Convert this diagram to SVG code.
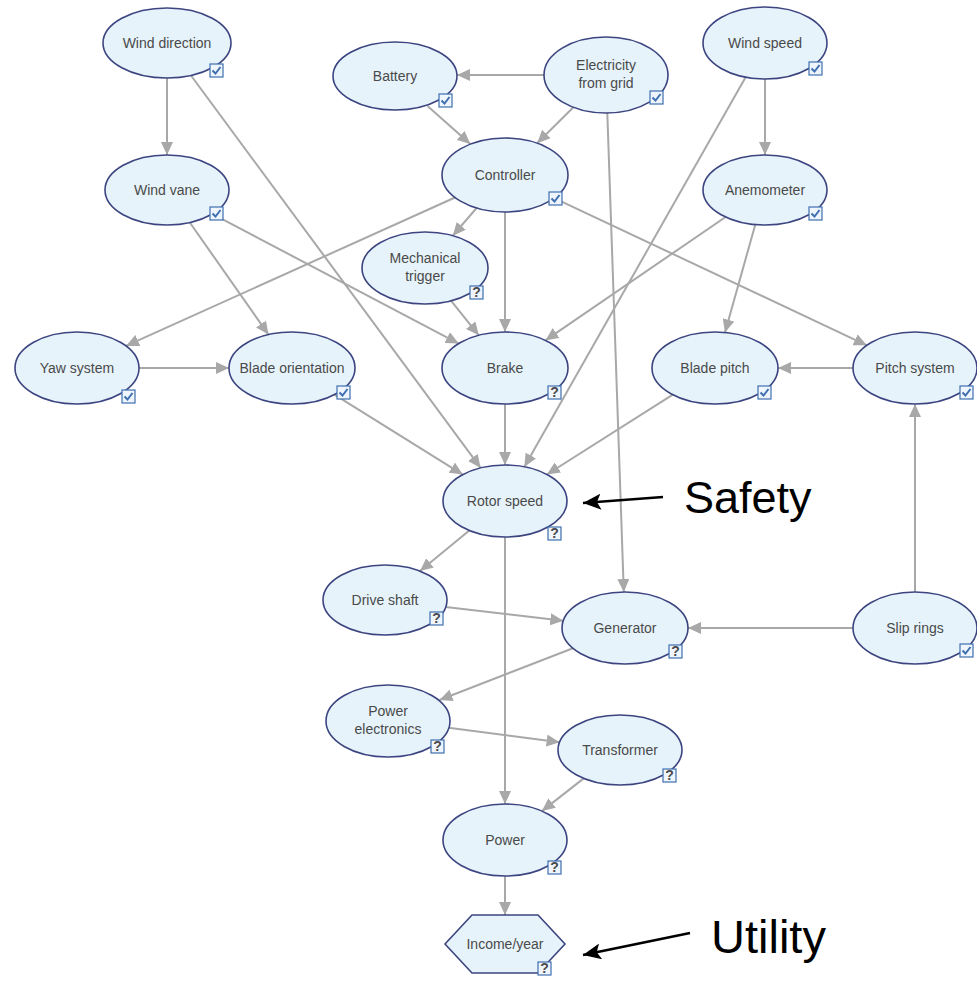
<svg xmlns="http://www.w3.org/2000/svg" width="977" height="988" viewBox="0 0 977 988">
<defs>
<style>
.n ellipse,.n polygon{fill:#e6f3fb;stroke:#3c4580;stroke-width:1.6}
.n text{font-family:"Liberation Sans",Arial,sans-serif;font-size:14px;fill:#4a4a4a;text-anchor:middle}
.e line{stroke:#a8a8a8;stroke-width:2;fill:none;marker-end:url(#ag)}
.ic{fill:#eef5fc;stroke:#3f6fb0;stroke-width:1.2}
.ck{fill:none;stroke:#3f6fb0;stroke-width:2}
.qm{font-family:"Liberation Sans",Arial,sans-serif;font-size:11px;font-weight:bold;fill:#3f6fb0;text-anchor:middle}
.ann{font-family:"Liberation Sans",Arial,sans-serif;fill:#000}
.al{stroke:#000;stroke-width:2.5;marker-end:url(#ab)}
</style>
<marker id="ag" markerUnits="userSpaceOnUse" markerWidth="14" markerHeight="12" refX="13" refY="6" orient="auto"><path d="M0,0 L13,6 L0,12 z" fill="#a8a8a8"/></marker>
<marker id="ab" markerUnits="userSpaceOnUse" markerWidth="20" markerHeight="16" refX="18" refY="8" orient="auto"><path d="M0,0 L18,8 L0,16 L4,8 z" fill="#000"/></marker>
<symbol id="chk" viewBox="0 0 13 13" overflow="visible"><rect class="ic" x="0" y="0" width="13" height="13"/><path class="ck" d="M2.5,6.5 L5.5,9.5 L10.5,3"/></symbol>
<symbol id="qb" viewBox="0 0 13 13" overflow="visible"><rect class="ic" x="0" y="0" width="13" height="13"/></symbol>
</defs>
<rect width="977" height="988" fill="#fff"/>

<g id="edges" class="e">
<line x1="167" y1="78" x2="167" y2="155"/>
<line x1="191" y1="75.5" x2="480.6" y2="467.9"/>
<line x1="544" y1="75" x2="457" y2="75"/>
<line x1="427.5" y1="106" x2="470.3" y2="144.1"/>
<line x1="573.4" y1="107.3" x2="537.1" y2="143.2"/>
<line x1="607.3" y1="113" x2="623.8" y2="592"/>
<line x1="765" y1="79" x2="765" y2="155"/>
<line x1="745.6" y1="77.2" x2="524.4" y2="466.8"/>
<line x1="476.6" y1="208" x2="452.8" y2="235.7"/>
<line x1="505" y1="212" x2="505" y2="332"/>
<line x1="455" y1="197.5" x2="126" y2="345.9"/>
<line x1="554.2" y1="198.1" x2="866.8" y2="345.3"/>
<line x1="212.3" y1="213.9" x2="458.7" y2="343.6"/>
<line x1="189.8" y1="222.5" x2="268.5" y2="334.6"/>
<line x1="725.6" y1="217" x2="545.4" y2="340.4"/>
<line x1="755.3" y1="224.5" x2="725" y2="332.4"/>
<line x1="451.2" y1="300.8" x2="478.8" y2="335.3"/>
<line x1="139" y1="368" x2="229" y2="368"/>
<line x1="853" y1="368" x2="778" y2="368"/>
<line x1="334.5" y1="394.6" x2="462.8" y2="474.6"/>
<line x1="505" y1="404" x2="505" y2="465"/>
<line x1="672.8" y1="394.7" x2="546.9" y2="474.5"/>
<line x1="469.3" y1="530.4" x2="420" y2="571.1"/>
<line x1="505" y1="537" x2="505" y2="804"/>
<line x1="445.7" y1="607.1" x2="563.3" y2="620.8"/>
<line x1="853" y1="628" x2="688" y2="628"/>
<line x1="915" y1="592" x2="915" y2="404"/>
<line x1="572.9" y1="648.2" x2="439.5" y2="700"/>
<line x1="448.6" y1="727.8" x2="559.6" y2="742.2"/>
<line x1="583.7" y1="778.4" x2="541.9" y2="811.1"/>
<line x1="505" y1="876" x2="505" y2="915"/>
</g>

<g id="n-wind-direction" class="n"><ellipse cx="167" cy="43" rx="64" ry="35"/><text x="167" y="48">Wind direction</text><use href="#chk" x="210" y="64" width="13" height="13"/></g>
<g id="n-battery" class="n"><ellipse cx="395" cy="76" rx="62" ry="34"/><text x="395" y="81">Battery</text><use href="#chk" x="439" y="94" width="13" height="13"/></g>
<g id="n-electricity" class="n"><ellipse cx="606" cy="75" rx="62" ry="38"/><text x="606" y="70">Electricity</text><text x="606" y="88">from grid</text><use href="#chk" x="650" y="91" width="13" height="13"/></g>
<g id="n-wind-speed" class="n"><ellipse cx="765" cy="43" rx="62" ry="36"/><text x="765" y="48">Wind speed</text><use href="#chk" x="809" y="62" width="13" height="13"/></g>
<g id="n-controller" class="n"><ellipse cx="505" cy="175" rx="63" ry="37"/><text x="505" y="180">Controller</text><use href="#chk" x="549" y="192" width="13" height="13"/></g>
<g id="n-wind-vane" class="n"><ellipse cx="167" cy="190" rx="62" ry="35"/><text x="167" y="195">Wind vane</text><use href="#chk" x="210" y="207" width="13" height="13"/></g>
<g id="n-anemometer" class="n"><ellipse cx="765" cy="190" rx="62" ry="35"/><text x="765" y="195">Anemometer</text><use href="#chk" x="809" y="207" width="13" height="13"/></g>
<g id="n-mech-trigger" class="n"><ellipse cx="425" cy="268" rx="63" ry="36"/><text x="425" y="263">Mechanical</text><text x="425" y="281">trigger</text><use href="#qb" x="470" y="286" width="13" height="13"/><text class="qm" x="476.5" y="297">?</text></g>
<g id="n-yaw" class="n"><ellipse cx="77" cy="368" rx="62" ry="36"/><text x="77" y="373">Yaw system</text><use href="#chk" x="122" y="390" width="13" height="13"/></g>
<g id="n-blade-orientation" class="n"><ellipse cx="292" cy="368" rx="63" ry="36"/><text x="292" y="373">Blade orientation</text><use href="#chk" x="337" y="386" width="13" height="13"/></g>
<g id="n-brake" class="n"><ellipse cx="505" cy="368" rx="63" ry="36"/><text x="505" y="373">Brake</text><use href="#qb" x="548" y="386" width="13" height="13"/><text class="qm" x="554.5" y="397">?</text></g>
<g id="n-blade-pitch" class="n"><ellipse cx="715" cy="368" rx="63" ry="36"/><text x="715" y="373">Blade pitch</text><use href="#chk" x="758" y="386" width="13" height="13"/></g>
<g id="n-pitch-system" class="n"><ellipse cx="915" cy="368" rx="62" ry="36"/><text x="915" y="373">Pitch system</text><use href="#chk" x="960" y="386" width="13" height="13"/></g>
<g id="n-rotor-speed" class="n"><ellipse cx="505" cy="501" rx="62" ry="36"/><text x="505" y="506">Rotor speed</text><use href="#qb" x="548" y="527" width="13" height="13"/><text class="qm" x="554.5" y="538">?</text></g>
<g id="n-drive-shaft" class="n"><ellipse cx="385" cy="600" rx="62" ry="35"/><text x="385" y="605">Drive shaft</text><use href="#qb" x="430" y="612" width="13" height="13"/><text class="qm" x="436.5" y="623">?</text></g>
<g id="n-generator" class="n"><ellipse cx="625" cy="628" rx="63" ry="36"/><text x="625" y="633">Generator</text><use href="#qb" x="669" y="645" width="13" height="13"/><text class="qm" x="675.5" y="656">?</text></g>
<g id="n-slip-rings" class="n"><ellipse cx="915" cy="628" rx="62" ry="36"/><text x="915" y="633">Slip rings</text><use href="#chk" x="960" y="644" width="13" height="13"/></g>
<g id="n-power-electronics" class="n"><ellipse cx="388" cy="721" rx="62" ry="36"/><text x="388" y="716">Power</text><text x="388" y="734">electronics</text><use href="#qb" x="431" y="740" width="13" height="13"/><text class="qm" x="437.5" y="751">?</text></g>
<g id="n-transformer" class="n"><ellipse cx="620" cy="750" rx="62" ry="35"/><text x="620" y="755">Transformer</text><use href="#qb" x="663" y="769" width="13" height="13"/><text class="qm" x="669.5" y="780">?</text></g>
<g id="n-power" class="n"><ellipse cx="505" cy="840" rx="62" ry="36"/><text x="505" y="845">Power</text><use href="#qb" x="548" y="861" width="13" height="13"/><text class="qm" x="554.5" y="872">?</text></g>
<g id="n-income" class="n"><polygon points="472,915 538,915 565,944 538,973 472,973 445,944"/><text x="505" y="949">Income/year</text><use href="#qb" x="538" y="962" width="13" height="13"/><text class="qm" x="544.5" y="973">?</text></g>

<g id="annotations">
<line class="al" x1="663" y1="497" x2="583" y2="503"/>
<text class="ann" x="684" y="513" font-size="45">Safety</text>
<line class="al" x1="690" y1="933" x2="583" y2="955"/>
<text class="ann" x="711" y="953" font-size="47">Utility</text>
</g>
</svg>
